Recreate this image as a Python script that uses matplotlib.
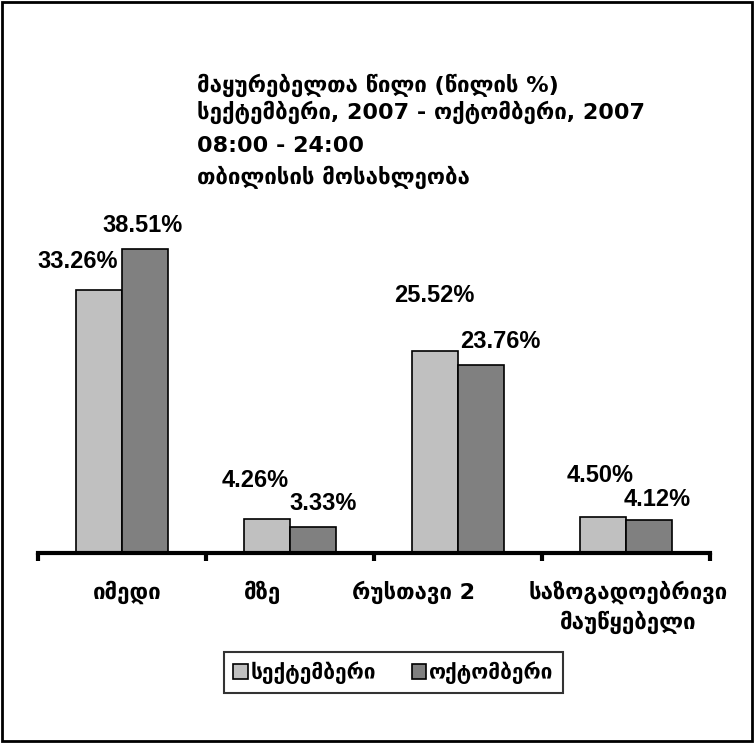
import matplotlib.pyplot as plt
from matplotlib.patches import Rectangle
import numpy as np

plt.rcParams['font.family'] = ['DejaVu Sans']

# Data
categories = ['იმედი', 'მზე', 'რუსთავი 2', 'საზოგადოებრივი\nმაუწყებელი']
series_names = ['სექტემბერი', 'ოქტომბერი']
september = [33.26, 4.26, 25.52, 4.50]
october = [38.51, 3.33, 23.76, 4.12]
title_lines = ['მაყურებელთა წილი (წილის %)',
               'სექტემბერი, 2007 - ოქტომბერი, 2007',
               '08:00 - 24:00',
               'თბილისის მოსახლეობა']

# label nudges in pixels (hand placed, like the original)
sep_offsets = [(-21, 22), (-12, 32), (-1, 49), (-3, 35)]
oct_offsets = [(-2, 17), (10, 17), (19, 17), (8, 14)]
cat_offsets = [5, -27, -45, 2]
title_baselines = [92, 119, 152, 184]

W, H = 754, 743
fig = plt.figure(figsize=(W / 100, H / 100), dpi=100)
fig.patch.set_facecolor('white')

# axes: x from 38px to 710px, baseline at 553px, 7.9 px per percent
ymax = 45
ax = fig.add_axes([38 / W, (H - 553) / H, 672 / W, ymax * 7.9 / H])
x = np.arange(len(categories))
w = 0.274
b1 = ax.bar(x - w / 2, september, w, color='#c0c0c0', edgecolor='black', linewidth=1.2,
            label=series_names[0], zorder=2)
b2 = ax.bar(x + w / 2, october, w, color='#808080', edgecolor='black', linewidth=1.2,
            label=series_names[1], zorder=2)
ax.set_xlim(-0.5, len(categories) - 0.5)
ax.set_ylim(0, ymax)

for s in ['top', 'right', 'left']:
    ax.spines[s].set_visible(False)
ax.spines['bottom'].set_linewidth(3)
ax.spines['bottom'].set_zorder(3)
ax.set_yticks([])
ax.set_xticks(np.arange(len(categories) + 1) - 0.5)
ax.set_xticklabels([])
ax.tick_params(axis='x', direction='out', length=6, width=3)

lab_font = dict(family='Liberation Sans', fontweight='bold', fontsize=17)
for i in range(len(categories)):
    ax.annotate(f'{september[i]:.2f}%', (x[i] - w / 2, september[i]), xytext=sep_offsets[i],
                textcoords='offset pixels', ha='center', va='baseline', **lab_font)
    ax.annotate(f'{october[i]:.2f}%', (x[i] + w / 2, october[i]), xytext=oct_offsets[i],
                textcoords='offset pixels', ha='center', va='baseline', **lab_font)
    ax.annotate(categories[i], (x[i], 0), xytext=(cat_offsets[i], -28),
                textcoords='offset pixels', ha='center', va='top', fontsize=16,
                fontweight='bold', linespacing=1.35)

for line, yb in zip(title_lines, title_baselines):
    fig.text(197 / W, 1 - yb / H, line, ha='left', va='baseline',
             fontsize=16, fontweight='bold')

leg = fig.legend(handles=[b1, b2], loc='center', bbox_to_anchor=(393.5 / W, 1 - 672.5 / H),
                 ncol=2, frameon=True, fancybox=False, fontsize=15,
                 handlelength=0.7, handleheight=0.7, handletextpad=0.15,
                 columnspacing=1.7, borderpad=0.45)
leg.get_frame().set_edgecolor('black')
leg.get_frame().set_linewidth(1.5)
for t in leg.get_texts():
    t.set_fontweight('bold')

fig.patches.append(Rectangle((2 / W, 2 / H), 1 - 4 / W, 1 - 4 / H, transform=fig.transFigure,
                             fill=False, edgecolor='black', linewidth=2))

fig.savefig('out.png', dpi=100)
